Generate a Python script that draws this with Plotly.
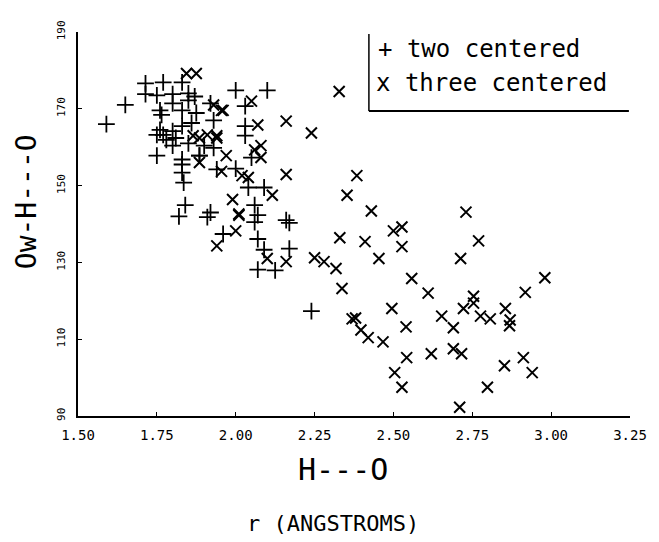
import plotly.graph_objects as go

# two centered (+)
r_two = [1.59, 1.65, 1.714, 1.77, 1.83, 1.75, 1.80, 1.714,
         1.76, 1.765, 1.80, 1.83, 1.85, 1.85, 1.87, 1.875, 1.92,
         1.76, 1.77, 1.75, 1.80, 1.83, 1.86, 1.81, 1.78, 1.80, 1.885, 1.90, 1.93,
         1.75, 1.83, 1.885, 1.83, 1.83, 1.835, 1.85, 1.93, 1.94, 2.00, 2.03, 2.03,
         2.05, 2.04, 2.09, 2.00, 2.10, 2.03,
         1.82, 1.84, 1.91, 1.92, 2.06, 2.07, 2.06, 2.17, 1.96, 2.07, 2.09, 2.17,
         2.07, 2.125, 2.16, 2.24]
a_two = [166, 171, 176.6, 176.9, 176.9, 173.5, 173.8, 173.8,
         169.6, 168.4, 171.4, 169.6, 172.2, 174, 173.2, 168.9, 171.4,
         164.5, 163.2, 163.2, 164.2, 165.5, 166.3, 162.4, 161.9, 160.4, 157.8, 160.4, 167,
         157.8, 156.8, 157.8, 155.5, 153.4, 150.8, 161, 159.8, 154.2, 154.4, 163, 165.5,
         157.3, 149.5, 149.5, 174.8, 174.8, 170.7,
         142, 144.9, 141.8, 143, 144.9, 142.3, 140.5, 140.3, 137.4, 136.1, 133.3, 133.6,
         128.1, 127.9, 141, 117.3]

# three centered (x)
r_three = [1.844, 1.875, 2.05, 1.96, 2.16, 2.24, 2.07, 2.08, 2.06, 2.08, 1.97, 1.94,
           1.865, 1.91, 1.94, 1.955, 1.93,
           1.885, 1.885, 1.955, 2.02, 2.04, 2.116, 2.16, 1.99, 2.01,
           2.01, 2.00, 1.94, 2.10, 2.16,
           2.25, 2.28, 2.318, 2.337, 2.328, 2.384, 2.353, 2.43, 2.73, 2.33, 2.41,
           2.50, 2.527, 2.527, 2.77, 2.454,
           2.558, 2.61, 2.713, 2.98, 2.918, 2.754, 2.754, 2.722, 2.776, 2.807, 2.855,
           2.87, 2.868, 2.653, 2.69, 2.495, 2.54, 2.369, 2.38, 2.397, 2.42, 2.467,
           2.542, 2.62, 2.69, 2.716, 2.504, 2.527, 2.798, 2.852, 2.912, 2.94, 2.71]
a_three = [179.2, 179.2, 172, 169.6, 166.8, 163.7, 165.8, 160.4, 159.3, 157.3, 157.8, 163,
           163, 163.2, 162.4, 169.6, 171,
           162.4, 156, 153.7, 152.6, 152.1, 147.5, 152.9, 146.4, 142.6,
           142.3, 138.2, 134.3, 131, 130.2,
           131.2, 130.2, 128.4, 123.2, 174.5, 152.6, 147.5, 143.4, 143.1, 136.4, 135.4,
           138.2, 139.2, 134.1, 135.6, 131,
           125.8, 122, 131, 126, 122.2, 121.2, 119.4, 118, 116, 115.3, 118,
           115, 113.5, 116, 113, 118, 113.2, 115.3, 115.5, 112.4, 110.4, 109.3,
           105.2, 106.2, 107.5, 106.2, 101.3, 97.5, 97.5, 103.1, 105.2, 101.3, 92.3]

assert len(r_two) == len(a_two)
assert len(r_three) == len(a_three)

x_ticks = [1.50, 1.75, 2.00, 2.25, 2.50, 2.75, 3.00, 3.25]
y_ticks = [90, 110, 130, 150, 170, 190]
legend_labels = ["+ two centered", "x three centered"]

FONT = "DejaVu Sans Mono"

fig = go.Figure()
fig.add_trace(go.Scatter(
    x=r_two, y=a_two, mode="markers", name="two centered",
    marker=dict(symbol="cross-thin", size=12, line=dict(width=1.8, color="black"), color="black"),
))
fig.add_trace(go.Scatter(
    x=r_three, y=a_three, mode="markers", name="three centered",
    marker=dict(symbol="x-thin", size=11, line=dict(width=2, color="black"), color="black"),
))

# page body has an 8px margin: figure sized to fit the window exactly
fig.update_layout(
    width=651, height=534,
    margin=dict(l=70, r=27, t=20, b=126),
    paper_bgcolor="white", plot_bgcolor="white",
    showlegend=False,
    font=dict(family=FONT, color="black", size=13),
    xaxis=dict(range=[1.5, 3.25], tickvals=x_ticks, tickformat=".2f",
               showgrid=False, zeroline=False, showline=True, linecolor="black", linewidth=2,
               ticks="inside", ticklen=4, tickcolor="black", ticklabelstandoff=5,
               tickfont=dict(family=FONT, size=14)),
    yaxis=dict(range=[90, 190], tickvals=y_ticks, tickangle=-90,
               showgrid=False, zeroline=False, showline=True, linecolor="black", linewidth=2,
               ticks="inside", ticklen=4, tickcolor="black", ticklabelstandoff=7,
               tickfont=dict(family=FONT, size=11)),
)

# axis titles
fig.add_annotation(text="Ow-H---O", xref="paper", yref="paper", x=-0.094, y=0.557,
                   textangle=-90, showarrow=False, font=dict(family=FONT, size=28),
                   xanchor="center", yanchor="middle")
fig.add_annotation(text="H---O", xref="paper", yref="paper", x=0.48, y=-0.139,
                   showarrow=False, font=dict(family=FONT, size=30),
                   xanchor="center", yanchor="middle")
fig.add_annotation(text="r (ANGSTROMS)", xref="paper", yref="paper", x=0.462, y=-0.281,
                   showarrow=False, font=dict(family=FONT, size=22),
                   xanchor="center", yanchor="middle")

# legend box (left and bottom edges only)
fig.add_shape(type="line", xref="paper", yref="paper", x0=0.527, x1=0.527, y0=0.794, y1=0.995,
              line=dict(color="black", width=1.5))
fig.add_shape(type="line", xref="paper", yref="paper", x0=0.527, x1=0.998, y0=0.794, y1=0.794,
              line=dict(color="black", width=2))
fig.add_annotation(text=legend_labels[0], xref="paper", yref="paper", x=0.54, y=0.957,
                   showarrow=False, font=dict(family=FONT, size=24),
                   xanchor="left", yanchor="middle")
fig.add_annotation(text=legend_labels[1], xref="paper", yref="paper", x=0.536, y=0.866,
                   showarrow=False, font=dict(family=FONT, size=24),
                   xanchor="left", yanchor="middle")

fig.write_html("out.html")
